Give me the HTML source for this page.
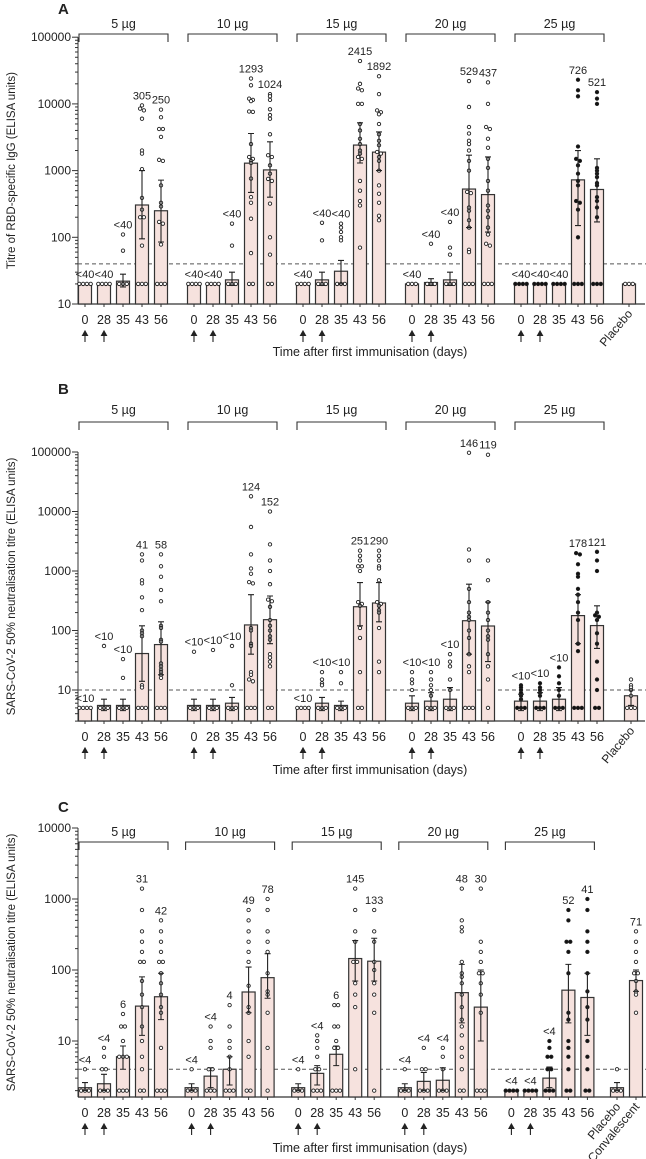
<!DOCTYPE html>
<html><head><meta charset="utf-8"><style>
body{margin:0;background:#fff}
svg{display:block;font-family:"Liberation Sans",sans-serif}
</style></head><body>
<svg id="chart" width="646" height="1159" viewBox="0 0 646 1159" xmlns="http://www.w3.org/2000/svg"></svg>
<script>
// ---------- Panel A data (RBD IgG) ----------
const aGmt=[20,20,22,305,250, 20,20,23,1293,1024, 20,23,31,2415,1892, 20,21,23,529,437, 20,20,20,726,521, 20];
const aLo=[20,20,18,95,85, 20,20,19,470,400, 20,19,20,1300,1000, 20,19,19,140,120, 20,20,20,150,170, 20];
const aHi=[20,20,28,1000,720, 20,20,30,3600,2700, 20,30,45,5200,3800, 20,24,30,1700,1600, 20,20,20,2000,1500, 20];
const aLabels=["<40","<40","<40","305","250","<40","<40","<40","1293","1024","<40","<40","<40","2415","1892","<40","<40","<40","529","437","<40","<40","<40","726","521",""];
const aDots=[[20,20,20,20],[20,20,20,20],[110,63,20,20,20],[9500,8500,8000,6000,2000,1800,1050,390,260,200,200,75,20,20,20],[8200,6300,4200,4200,3200,1450,1400,600,330,290,160,170,78,20,20,20],
[20,20,20,20],[20,20,20,20],[160,75,20,20,20],[24000,19000,11500,11000,12000,7700,7600,2500,1600,1500,1400,1300,760,400,330,190,58,20,20],[13000,14000,11500,8300,6800,6000,3500,1700,1600,1200,900,750,700,320,100,55,20,20],
[20,20,20,20],[165,90,20,20,20],[160,140,120,100,90,20,20,20],[44000,20000,17000,16000,10000,10000,5000,4000,3000,2500,2000,1800,1600,1500,700,500,350,300,70],[26000,14000,8000,7500,7000,5000,3500,2800,2400,1900,1800,1600,1400,1000,600,450,330,210,180],
[20,20,20],[80,20,20,20],[170,70,55,20,20,20],[22000,9000,4500,3600,2800,2500,2000,1400,1000,480,460,280,250,180,140,65,60,20,20,20],[21000,10000,4500,4200,3000,2200,1500,1100,700,500,300,250,200,140,110,80,75,20,20,20],
[20,20,20,20],[20,20,20,20],[20,20,20,20],[23000,16000,13000,2300,1500,1400,1200,900,700,600,350,330,260,100,20,20,20],[15000,12000,10000,1100,1000,900,800,650,600,400,350,280,200,20,20,20],
[20,20,20]];
// ---------- Panel B data (neutralisation, live virus) ----------
const bGmt=[5,5.5,5.5,41,58, 5.5,5.5,6,124,152, 5,6,5.5,251,290, 6,6.5,7,146,119, 6.5,6.5,7,178,121, 8];
const bLo=[5,4.5,4.5,14,18, 4.5,4.5,4.5,40,60, 5,4.5,4.5,120,140, 4.5,4.5,4.5,40,30, 4.5,4.5,4.5,60,50, 5.5];
const bHi=[5,7,7,120,140, 7,7,7.5,400,380, 5,7.5,6.5,640,640, 8,9,11,600,300, 8.5,9,11,400,260, 10];
const bLabels=["<10","<10","<10","41","58","<10","<10","<10","124","152","<10","<10","<10","251","290","<10","<10","<10","146","119","<10","<10","<10","178","121",""];
const bDots=[[5,5,5,5],[55,5,5,5],[33,16,5,5,5],[1900,1500,700,620,360,220,100,90,80,12,11,5,5,5],[1900,1200,800,480,310,110,120,70,65,28,25,22,20,16,18,5,5,5],
[44,5,5,5],[47,5,5,5],[55,12,5,5,5],[18000,5500,1900,1100,900,620,650,110,100,60,55,20,18,15,14,5,5,5],[10000,2800,1500,1000,600,330,310,250,150,120,100,80,70,40,30,35,25,5,5],
[5,5,5,5],[20,15,13,12,5,5,5],[20,13,5,5,5],[2200,1800,1500,1200,1200,1000,300,280,260,110,75,20,5,5],[2200,1800,1500,1200,1100,700,300,280,260,220,200,110,30,20],
[20,15,13,10,5,5,5],[20,15,12,10,8,5,5,5],[40,30,25,15,10,5,5,5],[97000,2300,1500,500,300,200,170,150,100,75,40,25,20,5,5,5],[90000,1500,700,300,200,150,100,80,70,40,25,15,5],
[12,11,10,9,8,7,5,5,5],[13,11,10,9,8,5,5,5],[24,17,13,10,8,5,5,5],[2000,1900,1300,900,800,500,400,300,200,150,60,45,5,5,5],[2100,1500,1000,200,180,170,150,90,60,30,15,10,5,5],
[15,12,11,10,8,5,5,5]];
// ---------- Panel C data (neutralisation, pseudovirus) ----------
const cGmt=[2.2,2.5,6,31,42, 2.2,3.2,4,49,78, 2.2,3.5,6.5,145,133, 2.2,2.7,2.8,48,30, 2,2,3,52,41, 2.2,71];
const cLo=[2,2,4,12,20, 2,2.2,2.4,25,40, 2,2.4,4.5,70,70, 2,2,2,18,10, 2,2,2.2,18,12, 2,50];
const cHi=[2.6,3.4,8.5,80,90, 2.5,4.2,6,110,170, 2.5,4.5,8.5,260,280, 2.5,3.6,4.2,120,100, 2,2,4.3,120,90, 2.6,100];
const cLabels=["<4","<4","6","31","42","<4","<4","4","49","78","<4","<4","6","145","133","<4","<4","<4","48","30","<4","<4","<4","52","41","","71"];
const cDots=[[4,2,2,2],[8,6,4,4,2,2,2],[24,16,16,10,6,6,6,2,2,2],[1400,700,350,250,180,130,130,70,45,30,16,10,6,4,2,2],[500,350,250,180,130,130,90,65,45,30,25,8,2,2,2],
[4,2,2,2],[16,10,8,4,4,2,2,2],[32,16,10,8,6,4,2,2,2],[700,500,350,250,180,130,60,30,25,10,6,2,2],[1000,700,350,250,180,90,50,45,25,8,2],
[4,2,2,2],[12,10,8,6,4,4,2,2,2],[32,32,16,16,10,8,8,2,2,2],[1400,700,350,250,130,130,65,45,30,4],[700,350,250,130,100,65,45,25,2],
[4,2,2,2],[8,4,4,2,2,2],[8,6,4,2,2,2],[1400,500,400,350,130,90,80,65,45,30,20,16,12,8,6,4,2,2],[1400,250,180,130,90,90,65,45,25,2,2,2],
[2,2,2,2],[2,2,2,2],[10,8,6,6,4,4,2,2,2],[700,500,250,250,180,90,25,20,10,8,6,4,2,2],[1000,700,350,250,180,90,50,30,20,10,6,4,2,2],
[4,2,2,2],[350,250,180,130,90,90,70,50,45,25]];
const groupNames=["5 µg","10 µg","15 µg","20 µg","25 µg"];
const dayTicks=["0","28","35","43","56"];

const NS="http://www.w3.org/2000/svg";
const svg=document.getElementById('chart');
function mk(tag,attrs,parent,text){const e=document.createElementNS(NS,tag);for(const k in attrs)e.setAttribute(k,attrs[k]);if(text!==undefined)e.textContent=text;(parent||svg).appendChild(e);return e;}

const panels=[
 {id:'a',letter:'A',gmt:aGmt,lo:aLo,hi:aHi,labels:aLabels,dots:aDots,y10:304,ppd:66.7,base:304,topExp:5,minV:10,thr:40,
  g0:85,gs:109,step:19,extras:[{t:'Placebo',x:629}],brY:34,brLY:28,tickY:324,arrY:331,titleY:356,xEnd:645,letterY:14,
  ytitle:'Titre of RBD-specific IgG (ELISA units)'},
 {id:'b',letter:'B',gmt:bGmt,lo:bLo,hi:bHi,labels:bLabels,dots:bDots,y10:690,ppd:59.5,base:721,topExp:5,minV:3,thr:10,
  g0:85,gs:109,step:19,extras:[{t:'Placebo',x:631}],brY:422,brLY:414,tickY:741,arrY:748,titleY:774,xEnd:645,letterY:394,
  ytitle:'SARS-CoV-2 50% neutralisation titre (ELISA units)'},
 {id:'c',letter:'C',gmt:cGmt,lo:cLo,hi:cHi,labels:cLabels,dots:cDots,y10:1041,ppd:71,base:1097,topExp:4,minV:1.6,thr:4,
  g0:85,gs:106.6,step:19,extras:[{t:'Placebo',x:617},{t:'Convalescent',x:636}],brY:842,brLY:836,tickY:1117,arrY:1124,titleY:1152,xEnd:646,letterY:812,
  ytitle:'SARS-CoV-2 50% neutralisation titre (ELISA units)'}
];

panels.forEach(p=>{
 const g=mk('g',{});
 
 
 const Y=v=>p.y10-p.ppd*(Math.log10(v)-1);
 const topY=Y(Math.pow(10,p.topExp));
 const lt=mk('text',{x:58,y:p.letterY,'font-size':15,'font-weight':'bold',fill:'#222'},g,p.letter);
 
 
 const ax=mk('g',{stroke:'#333','stroke-width':1},g);
 
 
 mk('line',{x1:78,y1:topY,x2:78,y2:p.base},ax);
 for(let e=0;e<=p.topExp;e++){
  const dv=Math.pow(10,e);
  for(let m=1;m<10;m++){
   const v=dv*m; if(v>Math.pow(10,p.topExp)+1e-9) break; if(v<p.minV) continue;
   const yy=Y(v); const major=(m===1);
   mk('line',{x1:major?72:75,y1:yy,x2:78,y2:yy},ax);
   if(major&&e>=1){
    const t=mk('text',{x:71,y:yy+4,'font-size':12,'text-anchor':'end',fill:'#222',stroke:'none'},g,String(v));
    
    
   }
  }
 }
 const yt=mk('text',{x:0,y:0,'font-size':11.5,'text-anchor':'middle',fill:'#222',transform:`translate(15,${(topY+p.base)/2}) rotate(-90)`},g,p.ytitle);
 
 
 const xl=mk('line',{x1:78,y1:p.base,x2:p.xEnd,y2:p.base,stroke:'#333','stroke-width':1.2},g);
 
 
 const th=mk('line',{x1:78,y1:Y(p.thr),x2:646,y2:Y(p.thr),stroke:'#555','stroke-width':1,'stroke-dasharray':'4,3'},g);
 
 
 const xs=[];
 for(let gi=0;gi<5;gi++) for(let t=0;t<5;t++) xs.push(p.g0+gi*p.gs+t*p.step);
 p.extras.forEach(e=>xs.push(e.x));
 for(let gi=0;gi<5;gi++){
  const x1=p.g0+gi*p.gs-6,x2=p.g0+gi*p.gs+4*p.step+7;
  const br=mk('path',{d:`M${x1},${p.brY+8}V${p.brY}H${x2}V${p.brY+8}`,fill:'none',stroke:'#333','stroke-width':1.1},g);
  
  
  const bl=mk('text',{x:(x1+x2)/2,y:p.brLY,'font-size':12.5,'text-anchor':'middle',fill:'#222'},g,groupNames[gi]);
  
  
  for(let t=0;t<2;t++){
   const ax2=p.g0+gi*p.gs+t*p.step;
   const ar=mk('path',{d:`M${ax2},${p.arrY+11}V${p.arrY+2} M${ax2-2.5},${p.arrY+4.5}L${ax2},${p.arrY}L${ax2+2.5},${p.arrY+4.5}Z`,stroke:'#222','stroke-width':1.1,fill:'#222'},g);
   
   
  }
 }
 xs.forEach((x,i)=>{
  const bg=mk('g',{},g);
  
  
  const yv=Y(p.gmt[i]);
  mk('rect',{x:x-6.5,y:yv,width:13,height:p.base-yv,fill:'#f6e2de',stroke:'#333','stroke-width':1.2},bg);
  mk('line',{x1:x,y1:p.base,x2:x,y2:p.base+3,stroke:'#333'},bg);
  const filled=(i>=20&&i<25);
  const ds=p.dots[i].slice().sort((a,b)=>b-a);
  let k=0; let topDot=Infinity;
  while(k<ds.length){
   let j=k; while(j+1<ds.length && ds[j+1]>=ds[k]*0.93) j++;
   const n=j-k+1;
   for(let q=0;q<n;q++){
    const off=(q-(n-1)/2)*3.8;
    const cy=Y(ds[k+q]); topDot=Math.min(topDot,cy);
    const c=mk('circle',{cx:x+off,cy:cy,r:1.7,fill:filled?'#111':'#fff',stroke:'#222','stroke-width':0.9},bg);
    
    
   }
   k=j+1;
  }
  if(p.hi[i]>p.lo[i]){
   const y1=Y(p.hi[i]),y2=Y(p.lo[i]);
   const eb=mk('path',{d:`M${x},${y1}V${y2}M${x-3},${y1}H${x+3}M${x-3},${y2}H${x+3}`,stroke:'#222','stroke-width':1.1,fill:'none'},bg);
   
   
   topDot=Math.min(topDot,y1);
  }
  if(p.labels[i]){
   const al=mk('text',{x:x,y:Math.min(topDot,yv)-6,'font-size':11,'text-anchor':'middle',fill:'#222'},bg,p.labels[i]);
   
   
  }
  if(i<25){
   const tl=mk('text',{x:x,y:p.tickY,'font-size':12.5,'text-anchor':'middle',fill:'#222'},bg,dayTicks[i%5]);
   
   
  } else {
   const e=p.extras[i-25];
   const tl=mk('text',{x:0,y:0,'font-size':12,'text-anchor':'end',fill:'#222',transform:`translate(${x+4},${p.base+10}) rotate(-50)`},bg,e.t);
   
   
  }
 });
 const xt=mk('text',{x:370,y:p.titleY,'font-size':12.5,'text-anchor':'middle',fill:'#222'},g,'Time after first immunisation (days)');
 
 
});
</script>
</body></html>
